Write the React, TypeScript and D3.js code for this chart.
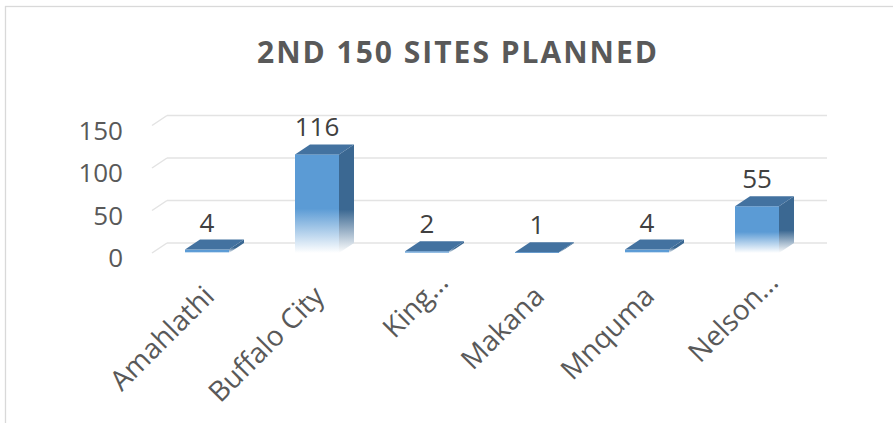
import React from 'react';
import * as d3 from 'd3';

const title = '2ND 150 SITES PLANNED';
const categories = ['Amahlathi', 'Buffalo City', 'King…', 'Makana', 'Mnquma', 'Nelson…'];
const values = [4, 116, 2, 1, 4, 55];
const yTicks = [0, 50, 100, 150];

const W = 893;
const H = 423;
const DX = 15;
const DY = -10;
const FONT = '"Open Sans", Calibri, sans-serif';

export default function App() {
  const x = d3.scaleBand<string>().domain(categories).range([152, 812]).padding(0);
  const y = d3.scaleLinear().domain([0, 150]).range([253, 125.5]);
  const bw = x.bandwidth() * 0.4;
  const y0 = y(0);

  return (
    <svg
      width={W}
      height={H}
      viewBox={`0 0 ${W} ${H}`}
      style={{ position: 'absolute', left: 0, top: 0, background: '#fff' }}
    >
      <defs>
        <linearGradient id="gFront" x1="0" y1="0" x2="0" y2="1">
          <stop offset="0" stopColor="#5B9BD5" />
          <stop offset="0.55" stopColor="#5B9BD5" />
          <stop offset="1" stopColor="#ffffff" />
        </linearGradient>
        <linearGradient id="gSide" x1="0" y1="0" x2="0" y2="1">
          <stop offset="0" stopColor="#3B6892" />
          <stop offset="0.6" stopColor="#3B6892" />
          <stop offset="1" stopColor="#ffffff" />
        </linearGradient>
      </defs>
      <rect x={0} y={0} width={W} height={H} fill="#fff" />
      <rect x={5.5} y={6.5} width={1000} height={1000} fill="none" stroke="#d9d9d9" strokeWidth={1.3} />

      <text
        x={457}
        y={63}
        textAnchor="middle"
        fontFamily={FONT}
        fontWeight="bold"
        fontSize={30}
        fill="#595959"
        textLength={400}
        lengthAdjust="spacing"
      >
        {title}
      </text>

      {/* gridlines: side wall + back wall */}
      {yTicks.map((t) => (
        <g key={t}>
          <line x1={152} y1={y(t)} x2={152 + DX} y2={y(t) + DY} stroke="#e3e3e3" strokeWidth={1.5} />
          <line x1={152 + DX} y1={y(t) + DY} x2={812 + DX} y2={y(t) + DY} stroke="#e3e3e3" strokeWidth={1.5} />
        </g>
      ))}

      {/* y tick labels */}
      {yTicks.map((t) => (
        <text
          key={'yl' + t}
          x={123}
          y={y(t) + 14}
          textAnchor="end"
          fontFamily={FONT}
          fontSize={26}
          fill="#595959"
        >
          {t}
        </text>
      ))}

      {/* bars */}
      {categories.map((c, i) => {
        const cx = (x(c) as number) + x.bandwidth() / 2;
        const x0 = cx - bw / 2;
        const x1 = cx + bw / 2;
        const yt = y(values[i]);
        return (
          <g key={c}>
            <rect x={x0} y={yt} width={bw} height={Math.max(0.5, y0 - yt)} fill="url(#gFront)" />
            <polygon
              points={`${x1},${yt} ${x1 + DX},${yt + DY} ${x1 + DX},${y0 + DY} ${x1},${y0}`}
              fill="url(#gSide)"
            />
            <polygon
              points={`${x0},${yt} ${x1},${yt} ${x1 + DX},${yt + DY} ${x0 + DX},${yt + DY}`}
              fill="#4372A0"
            />
          </g>
        );
      })}

      {/* data labels */}
      {categories.map((c, i) => {
        const cx = (x(c) as number) + x.bandwidth() / 2;
        return (
          <text
            key={'dl' + c}
            x={cx}
            y={y(values[i]) + DY - 8}
            textAnchor="middle"
            fontFamily={FONT}
            fontSize={26}
            fill="#404040"
          >
            {values[i]}
          </text>
        );
      })}

      {/* category labels */}
      {categories.map((c) => {
        const cx = (x(c) as number) + x.bandwidth() / 2;
        const trunc = c.endsWith('…') ? 14 : 0;
        return (
          <text
            key={'cl' + c}
            transform={`translate(${cx + 9 + trunc},${298 - trunc}) rotate(-45)`}
            textAnchor="end"
            fontFamily={FONT}
            fontSize={28}
            fill="#595959"
          >
            {c}
          </text>
        );
      })}
    </svg>
  );
}
